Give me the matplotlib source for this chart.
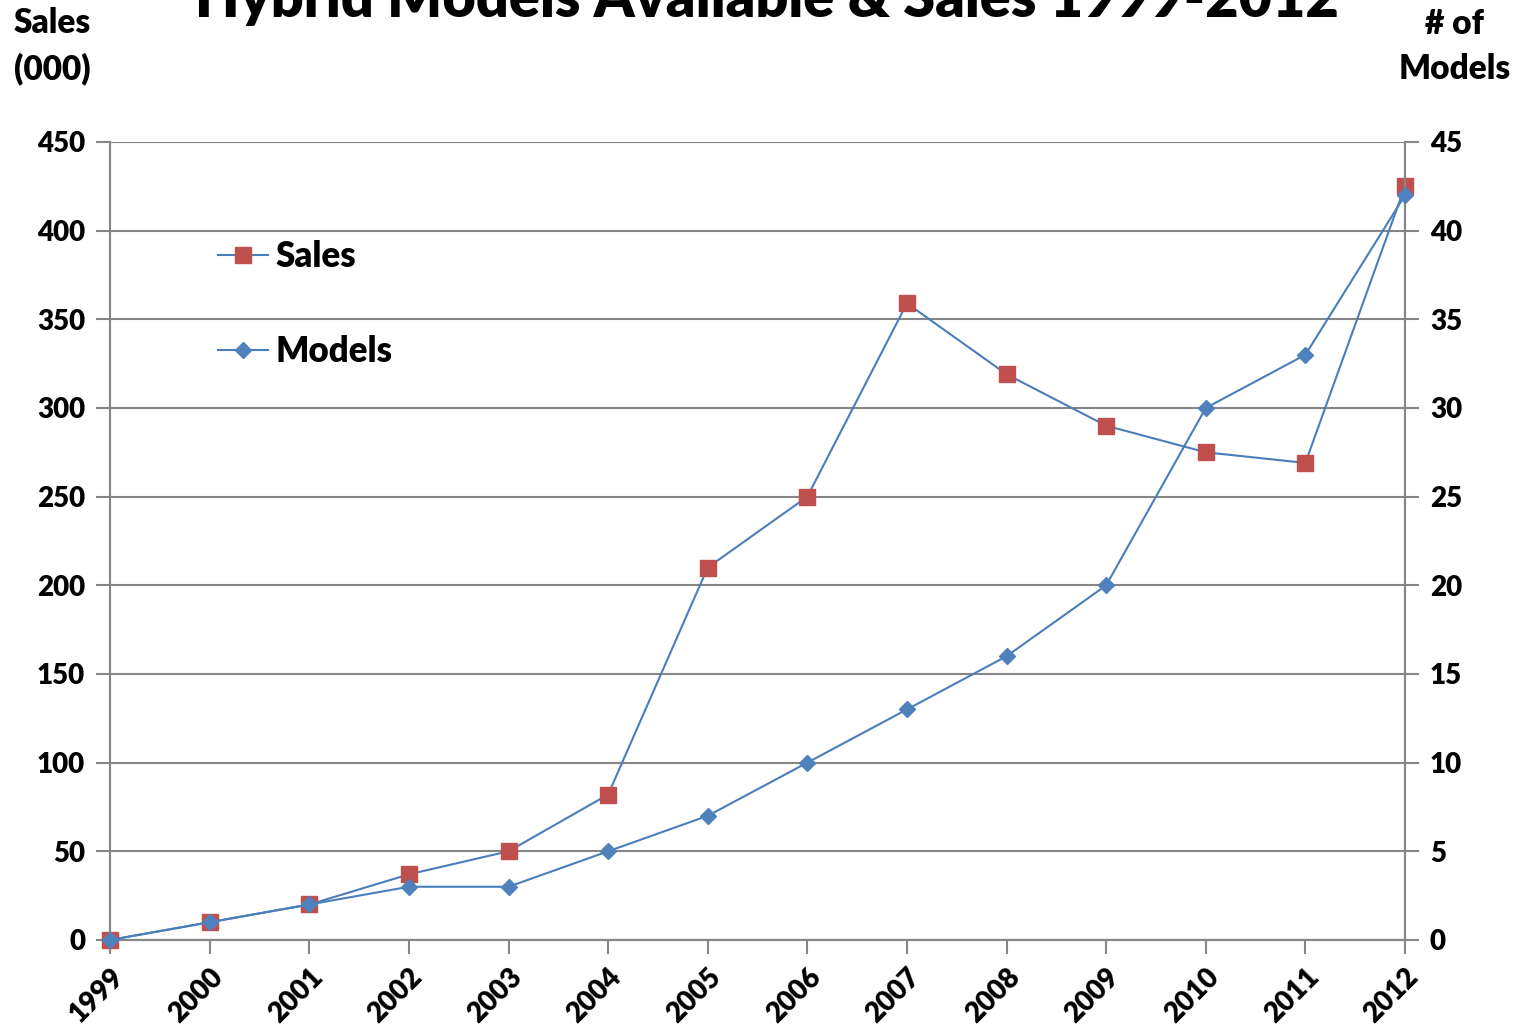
import numpy as np
import matplotlib.pyplot as plt

# data
years = [1999, 2000, 2001, 2002, 2003, 2004, 2005, 2006, 2007, 2008, 2009, 2010, 2011, 2012]
sales = [0, 10, 20, 37, 50, 82, 210, 250, 359, 319, 290, 275, 269, 425]   # thousands
models = [0, 1, 2, 3, 3, 5, 7, 10, 13, 16, 20, 30, 33, 42]

plt.rcParams['font.family'] = ['Lato', 'DejaVu Sans']
plt.rcParams['font.weight'] = 'heavy'

line_blue = '#4A7EBB'
red = '#C0504D'
grid_gray = '#868686'

fig = plt.figure(figsize=(15.33, 10.31), dpi=100)
ax = fig.add_axes([0.0718, 0.0883, 0.8447, 0.774])
ax2 = ax.twinx()

x = np.arange(len(years))
l1, = ax.plot(x, sales, color=line_blue, lw=1.5, marker='s', ms=11,
              mfc=red, mec=red, label='Sales', zorder=3, clip_on=False)
l2, = ax2.plot(x, models, color=line_blue, lw=1.5, marker='D', ms=8,
               mfc='#4F81BD', mec='#4F81BD', label='Models', zorder=3, clip_on=False)

ax.set_xlim(0, len(years) - 1)
ax.set_ylim(0, 450)
ax2.set_ylim(0, 45)
ax.set_yticks(np.arange(0, 451, 50))
ax2.set_yticks(np.arange(0, 46, 5))
ax.set_xticks(x)
ax.set_xticklabels([str(y) for y in years], rotation=45, ha='right',
                   rotation_mode='anchor', fontweight='heavy')

ax.yaxis.grid(True, color=grid_gray, lw=1.5)
ax.set_axisbelow(True)

for a in (ax, ax2):
    for s in a.spines.values():
        s.set_color(grid_gray)
        s.set_linewidth(1.5)
    a.spines['top'].set_visible(False)
    a.tick_params(axis='both', length=10, width=1.5, color=grid_gray,
                  labelsize=20, pad=8)
ax.tick_params(axis='x', pad=7, labelsize=20)
for lab in ax.get_yticklabels() + ax2.get_yticklabels():
    lab.set_fontweight('heavy')

fig.text(0.5, 1.0, 'Hybrid Models Available & Sales 1999-2012', ha='center',
         va='center', fontsize=41.5, fontweight='heavy')
fig.text(0.034, 0.955, 'Sales\n(000)', ha='center', va='center',
         fontsize=24, fontweight='heavy', linespacing=1.5)
fig.text(0.949, 0.955, '# of\nModels', ha='center', va='center',
         fontsize=24, fontweight='heavy', linespacing=1.5)

leg = ax2.legend(handles=[l1, l2], loc='upper left',
                 bbox_to_anchor=(218 / 1533, 1 - 240 / 1031),
                 bbox_transform=fig.transFigure, frameon=False,
                 fontsize=25, handlelength=1.45, handletextpad=0.2,
                 labelspacing=1.78, borderpad=0, borderaxespad=0)
for t in leg.get_texts():
    t.set_fontweight('heavy')

fig.savefig('out.png', dpi=100)
